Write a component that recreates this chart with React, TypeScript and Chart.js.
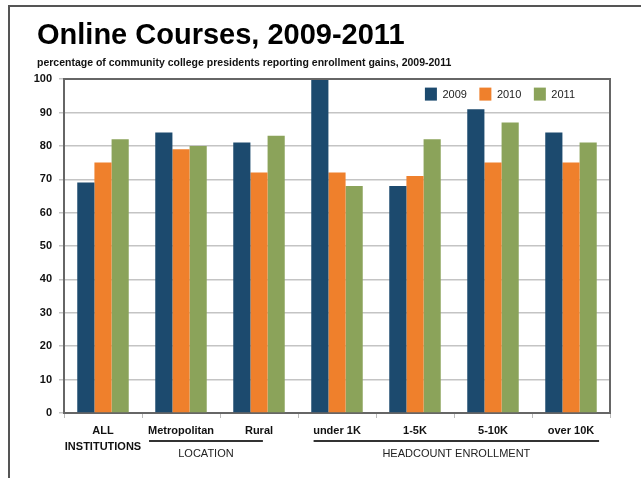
import React, { useEffect, useRef } from "react";
import { Chart, registerables } from "chart.js";

Chart.register(...registerables);

const categories: (string | string[])[] = [
  ["ALL", "INSTITUTIONS"],
  "Metropolitan",
  "Rural",
  "under 1K",
  "1-5K",
  "5-10K",
  "over 10K",
];
const seriesNames = ["2009", "2010", "2011"];
const values2009 = [69, 84, 81, 100, 68, 91, 84];
const values2010 = [75, 79, 72, 72, 71, 75, 75];
const values2011 = [82, 80, 83, 68, 82, 87, 81];
const yTicks = [0, 10, 20, 30, 40, 50, 60, 70, 80, 90, 100];
const groupLabels = ["LOCATION", "HEADCOUNT ENROLLMENT"];
const titleText = "Online Courses, 2009-2011";
const subtitleText =
  "percentage of community college presidents reporting enrollment gains, 2009-2011";

const COLORS = ["#1c4a6e", "#ef802c", "#8ba35a"];
const MAIN = "'Liberation Sans', Arial, Helvetica, sans-serif";

const decorPlugin = {
  id: "decor",
  beforeDraw(chart: any) {
    const ctx = chart.ctx;
    ctx.save();
    ctx.fillStyle = "#ffffff";
    ctx.fillRect(0, 0, chart.width, chart.height);
    ctx.strokeStyle = "#555555";
    ctx.lineWidth = 2;
    ctx.beginPath();
    ctx.moveTo(chart.width + 2, 6);
    ctx.lineTo(9, 6);
    ctx.lineTo(9, chart.height + 2);
    ctx.stroke();
    ctx.restore();
  },
  afterDraw(chart: any) {
    const ctx = chart.ctx;
    const a = chart.chartArea;
    const xs = chart.scales.x;
    ctx.save();
    // plot frame top & right
    ctx.strokeStyle = "#666666";
    ctx.lineWidth = 2;
    ctx.beginPath();
    ctx.moveTo(a.left, a.top);
    ctx.lineTo(a.right, a.top);
    ctx.lineTo(a.right, a.bottom);
    ctx.stroke();

    // legend inside plot, top right
    ctx.font = `11px ${MAIN}`;
    ctx.textBaseline = "middle";
    ctx.textAlign = "left";
    const boxW = 12;
    const boxH = 13;
    const gap = 5.5;
    const itemPad = 12.5;
    const ds = chart.data.datasets;
    const widths = ds.map((d: any) => boxW + gap + ctx.measureText(d.label).width);
    const total = widths.reduce((s: number, v: number) => s + v, 0) + itemPad * (ds.length - 1);
    let x = a.right - 35 - total;
    const boxTop = a.top + 8.5;
    ds.forEach((d: any, i: number) => {
      ctx.fillStyle = d.backgroundColor;
      ctx.fillRect(x, boxTop, boxW, boxH);
      ctx.fillStyle = "#222222";
      ctx.fillText(d.label, x + boxW + gap, boxTop + boxH / 2 + 0.5);
      x += widths[i] + itemPad;
    });

    // group underlines and labels
    const w = xs.getPixelForValue(1) - xs.getPixelForValue(0);
    const groups = [
      { from: xs.getPixelForValue(1) - 0.41 * w, to: xs.getPixelForValue(2) + 0.05 * w, label: groupLabels[0] },
      { from: xs.getPixelForValue(3) - 0.3 * w, to: xs.getPixelForValue(6) + 0.36 * w, label: groupLabels[1] },
    ];
    const lineY = a.bottom + 28;
    ctx.strokeStyle = "#333333";
    ctx.lineWidth = 2;
    ctx.fillStyle = "#222222";
    ctx.font = `11px ${MAIN}`;
    ctx.textAlign = "center";
    ctx.textBaseline = "middle";
    groups.forEach((g) => {
      ctx.beginPath();
      ctx.moveTo(g.from, lineY);
      ctx.lineTo(g.to, lineY);
      ctx.stroke();
      ctx.fillText(g.label, (g.from + g.to) / 2, lineY + 12.5);
    });
    ctx.restore();
  },
};

export default function App() {
  const ref = useRef<HTMLCanvasElement | null>(null);
  useEffect(() => {
    if (!ref.current) return;
    const chart = new Chart(ref.current, {
      type: "bar",
      data: {
        labels: categories,
        datasets: [values2009, values2010, values2011].map((d, i) => ({
          label: seriesNames[i],
          data: d,
          backgroundColor: COLORS[i],
          borderWidth: 0,
          categoryPercentage: 0.66,
          barPercentage: 1,
        })),
      },
      options: {
        responsive: false,
        animation: false,
        layout: { padding: { left: 37, right: 31, top: 0, bottom: 0 } },
        plugins: {
          title: {
            display: true,
            text: titleText,
            align: "start",
            color: "#000000",
            font: { family: MAIN, size: 29, weight: "bold", lineHeight: 1 },
            padding: { top: 21, bottom: 1 },
          },
          subtitle: {
            display: true,
            text: subtitleText,
            align: "start",
            color: "#111111",
            font: { family: MAIN, size: 10.5, weight: "bold", lineHeight: 1.2 },
            padding: { top: 6, bottom: 9.5 },
          },
          legend: { display: false },
          tooltip: { enabled: false },
        },
        scales: {
          x: {
            afterFit: (s: any) => {
              s.height = 65;
            },
            grid: {
              offset: true,
              drawOnChartArea: false,
              drawTicks: true,
              tickLength: 5,
              color: "#bbbbbb",
            },
            border: { color: "#666666", width: 2 },
            ticks: {
              padding: 5,
              color: "#111111",
              maxRotation: 0,
              autoSkip: false,
              font: { family: MAIN, size: 11, weight: "bold", lineHeight: 1.45 },
            },
          },
          y: {
            min: 0,
            max: 100,
            afterFit: (s: any) => {
              s.width = 27;
              s._computeLabelArea = () => undefined;
            },
            afterBuildTicks: (s: any) => {
              s.ticks = yTicks.map((v) => ({ value: v }));
            },
            grid: {
              color: "#c4c4c4",
              lineWidth: 1.5,
              drawTicks: true,
              tickLength: 5,
            },
            border: { color: "#666666", width: 2 },
            ticks: {
              padding: 7,
              color: "#111111",
              font: { family: MAIN, size: 11, weight: "bold" },
            },
          },
        },
      },
      plugins: [decorPlugin],
    });
    return () => chart.destroy();
  }, []);
  return (
    <div style={{ position: "fixed", left: 0, top: 0, width: 641, height: 478, background: "#fff" }}>
      <canvas ref={ref} width={641} height={478} style={{ display: "block" }} />
    </div>
  );
}
